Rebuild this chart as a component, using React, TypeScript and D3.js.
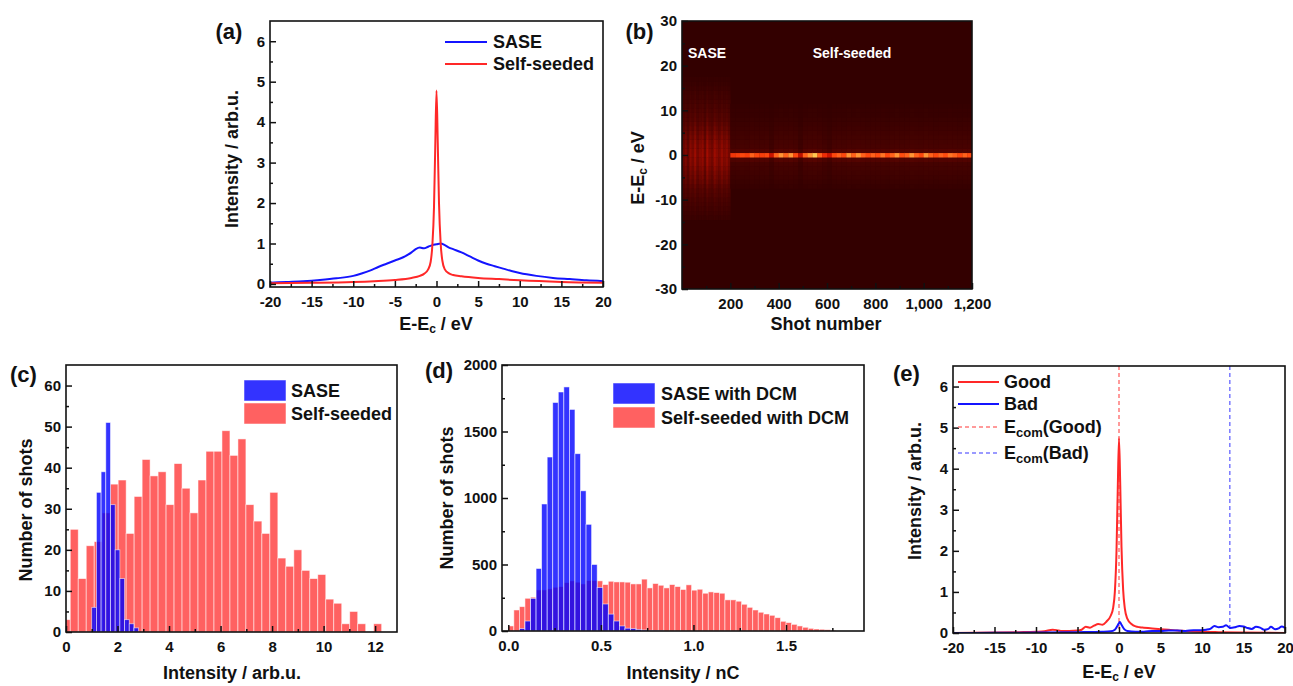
import React, { useEffect, useRef } from "react";
import * as d3 from "d3";

const FONT = "'Liberation Sans', Arial, Helvetica, sans-serif";

// (a) averaged spectra
const saseE = [-20, -18, -16, -14, -12, -10, -9, -8, -7, -6, -5, -4, -3, -2.5, -2, -1.5, -1, -0.5, 0, 0.5, 1, 1.5, 2, 3, 4, 5, 6, 7, 8, 9, 10, 12, 14, 16, 18, 20];
const saseSpec = [0.03, 0.05, 0.07, 0.1, 0.14, 0.2, 0.26, 0.33, 0.42, 0.5, 0.58, 0.66, 0.78, 0.86, 0.9, 0.88, 0.92, 0.96, 0.98, 1.0, 0.96, 0.9, 0.86, 0.78, 0.68, 0.58, 0.5, 0.44, 0.38, 0.32, 0.27, 0.2, 0.15, 0.12, 0.09, 0.07];
const seededE = [-20, -15, -10, -7.5, -5, -3, -2, -1.5, -1, -0.7, -0.5, -0.3, -0.15, 0, 0.15, 0.3, 0.5, 0.7, 1, 1.5, 2, 3, 5, 7.5, 10, 15, 20];
const seededSpec = [0.02, 0.03, 0.05, 0.07, 0.1, 0.15, 0.2, 0.25, 0.36, 0.55, 0.95, 1.9, 3.4, 4.78, 3.5, 2.0, 1.0, 0.58, 0.36, 0.26, 0.22, 0.19, 0.15, 0.12, 0.09, 0.05, 0.03];

// (b) single-shot map: column brightness per shot block, spectral profile per 1 eV row (-30..30)
const saseCols = [0.55, 0.7, 0.5, 0.8, 0.65, 0.9, 0.6, 0.75, 0.85, 0.55, 0.95, 0.7, 0.6, 0.9, 0.75, 0.65, 0.85, 0.7, 0.8, 0.6]; // 10 shots each, 0-200
const seedCols = [0.75, 0.8, 0.85, 0.8, 0.9, 0.85, 0.8, 0.85, 0.5, 0.9, 0.95, 0.9, 0.95, 0.85, 0.45, 0.9, 0.95, 1.0, 0.9, 0.7,
  0.5, 0.85, 0.9, 0.85, 0.95, 0.9, 0.95, 0.9, 0.85, 0.9, 0.88, 0.92, 0.85, 0.9, 0.95, 0.88, 0.9, 0.95, 0.9, 0.85,
  0.95, 0.9, 0.85, 0.9, 0.88, 0.92, 0.9, 0.85, 0.9, 0.88]; // 20 shots each, 200-1200
const energyRows = d3.range(-30, 31, 1);
const saseProfile = [0, 0, 0, 0, 0, 0, 0, 0, 0, 0, 0, 0, 0, 0, 0, 0,
  0.04, 0.06, 0.08, 0.1, 0.12, 0.15, 0.17, 0.2, 0.24, 0.27, 0.29, 0.32, 0.35, 0.36, 0.38,
  0.37, 0.35, 0.33, 0.3, 0.27, 0.24, 0.21, 0.18, 0.16, 0.14, 0.12, 0.1, 0.08, 0.07, 0.05, 0.03, 0.02,
  0, 0, 0, 0, 0, 0, 0, 0, 0, 0, 0, 0, 0];
const seedProfile = [0, 0, 0, 0, 0, 0, 0, 0, 0, 0, 0, 0, 0, 0, 0, 0, 0, 0, 0, 0, 0, 0, 0,
  0.02, 0.03, 0.05, 0.06, 0.07, 0.08, 0.14, 1.0, 0.14, 0.09, 0.08, 0.07, 0.06, 0.05, 0.04, 0.03, 0.02, 0.02, 0.01,
  0, 0, 0, 0, 0, 0, 0, 0, 0, 0, 0, 0, 0, 0, 0, 0, 0, 0, 0];

// (c) histogram, arb.u.
const cRedCenters = d3.range(40).map((k) => 0.01 + k * 0.31);
const cRedCounts = [3, 25, 13, 21, 22, 29, 36, 37, 24, 33, 42, 38, 39, 31, 41, 35, 29, 37, 44, 44, 49, 43, 47, 31, 27, 24, 34, 18, 16, 20, 15, 13, 14, 8, 7, 2, 5, 2, 0, 2];
const cBlueCenters = d3.range(10).map((k) => 1.09 + k * 0.182);
const cBlueCounts = [6, 34, 39, 51, 31, 20, 13, 3, 2, 1];

// (d) histogram with DCM, nC
const dRedCenters = d3.range(59).map((k) => 0.015 + k * 0.03);
const dRedCounts = [38, 158, 183, 246, 254, 309, 309, 317, 329, 334, 364, 377, 367, 354, 379, 379, 377, 349, 374, 369,
  369, 367, 354, 354, 390, 324, 357, 344, 324, 349, 334, 312, 347, 307, 314, 284, 294, 289, 284, 234,
  234, 224, 201, 178, 158, 141, 128, 118, 100, 73, 63, 50, 38, 28, 20, 15, 13, 10, 5];
const dBlueCenters = d3.range(28).map((k) => 0.015 + k * 0.03);
const dBlueCounts = [0, 0, 18, 75, 245, 470, 955, 1308, 1718, 1797, 1835, 1666, 1333, 1054, 802, 500, 327, 203, 127, 75, 38, 21, 18, 12, 8, 5, 3, 2];

// (e) good / bad single shots
const goodE = [-20, -15, -12, -10, -9, -8, -7.5, -7, -6, -5, -4.5, -4, -3.5, -3, -2.5, -2, -1.5, -1, -0.7, -0.5, -0.3, -0.15, 0, 0.15, 0.3, 0.5, 0.7, 1, 1.5, 2, 2.5, 3, 4, 5, 6, 7, 8, 10, 12, 15, 20];
const goodSpec = [0.0, 0.01, 0.02, 0.03, 0.04, 0.08, 0.07, 0.05, 0.05, 0.06, 0.08, 0.15, 0.13, 0.18, 0.22, 0.2, 0.28, 0.42, 0.62, 1.0, 2.0, 3.5, 4.74, 3.6, 2.1, 1.05, 0.6, 0.35, 0.22, 0.16, 0.14, 0.13, 0.11, 0.09, 0.08, 0.06, 0.05, 0.03, 0.02, 0.01, 0.0];
const badE = [-20, -15, -10, -5, -2, -1, -0.5, 0, 0.1, 0.3, 0.6, 1, 2, 3, 4, 5, 6, 7, 8, 9, 10, 10.5, 11, 11.5, 12, 12.5, 12.9, 13.4, 14, 14.5, 15, 15.5, 16, 16.5, 17, 17.5, 18, 18.3, 18.8, 19.3, 19.6, 20];
const badSpec = [0.0, 0.005, 0.01, 0.02, 0.03, 0.04, 0.08, 0.24, 0.27, 0.2, 0.1, 0.05, 0.03, 0.03, 0.05, 0.05, 0.06, 0.06, 0.05, 0.07, 0.07, 0.08, 0.1, 0.17, 0.14, 0.15, 0.19, 0.12, 0.14, 0.17, 0.16, 0.12, 0.1, 0.15, 0.13, 0.08, 0.1, 0.15, 0.09, 0.12, 0.16, 0.12];
const ecomGood = 0;
const ecomBad = 13.35;

const RED = "#ff2828";
const BLUE = "#1414ff";

const plain = (d: any) => String(d);

function axes(g: any, x: any, y: any, o: any) {
  const yb = y.range()[0];
  const yt = y.range()[1];
  const xl = x.range()[0];
  const xr = x.range()[1];
  const style = (s: any) => {
    s.select(".domain").remove();
    s.attr("font-size", 15).attr("font-family", FONT).attr("font-weight", "bold");
    s.selectAll("line").attr("stroke", "#111").attr("stroke-width", 1.5);
    s.selectAll("text").attr("fill", "#111");
  };
  g.append("g").attr("transform", `translate(0,${yb})`)
    .call(d3.axisBottom(x).tickValues(o.xMinor).tickSize(-3).tickSizeOuter(0).tickFormat(() => "")).call(style);
  g.append("g").attr("transform", `translate(0,${yb})`)
    .call(d3.axisBottom(x).tickValues(o.xMajor).tickSize(-6).tickSizeOuter(0).tickPadding(9).tickFormat(o.xFmt || plain)).call(style);
  g.append("g").attr("transform", `translate(${xl},0)`)
    .call(d3.axisLeft(y).tickValues(o.yMinor).tickSize(-3).tickSizeOuter(0).tickFormat(() => "")).call(style);
  g.append("g").attr("transform", `translate(${xl},0)`)
    .call(d3.axisLeft(y).tickValues(o.yMajor).tickSize(-6).tickSizeOuter(0).tickPadding(5).tickFormat(o.yFmt || plain)).call(style);
  g.append("rect").attr("x", xl).attr("y", yt).attr("width", xr - xl).attr("height", yb - yt)
    .attr("fill", "none").attr("stroke", "#111").attr("stroke-width", 1.6);
}

function label(svg: any, x: number, y: number, t: string, size = 22) {
  svg.append("text").attr("x", x).attr("y", y).attr("text-anchor", "middle").attr("dominant-baseline", "central")
    .attr("font-size", size).attr("font-weight", "bold").attr("fill", "#111").text(t);
}

// "E-E_c / eV" style title, optionally rotated
function eTitle(svg: any, cx: number, cy: number, rotate: boolean) {
  const t = svg.append("text").attr("text-anchor", "middle").attr("dominant-baseline", "central")
    .attr("font-size", 18).attr("font-weight", "bold").attr("fill", "#111")
    .attr("transform", `translate(${cx},${cy})${rotate ? " rotate(-90)" : ""}`);
  t.append("tspan").text("E-E");
  t.append("tspan").attr("dy", 5).attr("font-size", 12).text("c");
  t.append("tspan").attr("dy", -5).text(" / eV");
}

function title(svg: any, cx: number, cy: number, s: string, rotate: boolean) {
  svg.append("text").attr("text-anchor", "middle").attr("dominant-baseline", "central")
    .attr("font-size", 18).attr("font-weight", "bold").attr("fill", "#111")
    .attr("transform", `translate(${cx},${cy})${rotate ? " rotate(-90)" : ""}`).text(s);
}

function clip(svg: any, id: string, x: any, y: any) {
  svg.append("defs").append("clipPath").attr("id", id).append("rect")
    .attr("x", x.range()[0]).attr("y", y.range()[1])
    .attr("width", x.range()[1] - x.range()[0]).attr("height", y.range()[0] - y.range()[1]);
}

function curve(g: any, x: any, y: any, xs: number[], ys: number[], color: string, w = 2) {
  const line = d3.line<number>().x((_, i) => x(xs[i])).y((d) => y(d)).curve(d3.curveMonotoneX);
  g.append("path").datum(ys).attr("d", line).attr("fill", "none").attr("stroke", color).attr("stroke-width", w);
}

function bars(g: any, x: any, y: any, centers: number[], counts: number[], w: number, color: string, op: number) {
  g.selectAll(null).data(counts).enter().append("rect")
    .attr("x", (_: any, i: number) => x(centers[i] - w / 2))
    .attr("width", (_: any, i: number) => x(centers[i] + w / 2) - x(centers[i] - w / 2))
    .attr("y", (d: number) => y(d))
    .attr("height", (d: number) => y(0) - y(d))
    .attr("fill", color).attr("fill-opacity", op)
    .attr("stroke", "#fff").attr("stroke-opacity", 0.65).attr("stroke-width", 0.8);
}

function drawA(svg: any) {
  const x = d3.scaleLinear().domain([-20, 20]).range([270, 603]);
  const y = d3.scaleLinear().domain([-0.075, 6.5]).range([287, 21]);
  clip(svg, "clipA", x, y);
  const g = svg.append("g").attr("clip-path", "url(#clipA)");
  curve(g, x, y, saseE, saseSpec, BLUE);
  curve(g, x, y, seededE, seededSpec, RED);
  axes(svg, x, y, {
    xMajor: d3.range(-20, 21, 5), xMinor: d3.range(-17.5, 20, 5),
    yMajor: d3.range(0, 7, 1), yMinor: d3.range(0.5, 6.4, 1),
  });
  const leg = [["SASE", BLUE, 42], ["Self-seeded", RED, 64]];
  leg.forEach(([t, c, yy]: any) => {
    svg.append("line").attr("x1", 445).attr("x2", 487).attr("y1", yy).attr("y2", yy).attr("stroke", c).attr("stroke-width", 2);
    svg.append("text").attr("x", 493).attr("y", yy).attr("dominant-baseline", "central").attr("font-size", 18)
      .attr("font-weight", "bold").attr("fill", "#111").text(t);
  });
  eTitle(svg, 436, 324, false);
  title(svg, 232, 159, "Intensity / arb.u.", true);
  label(svg, 229, 31, "(a)");
}

function drawB(svg: any) {
  const x = d3.scaleLinear().domain([0, 1200]).range([682, 972]);
  const y = d3.scaleLinear().domain([-30, 30]).range([289, 21]);
  const color = d3.scaleLinear<string>().domain([0, 0.15, 0.35, 0.6, 0.88, 1])
    .range(["#330000", "#580400", "#a00c00", "#e41a00", "#ff4c10", "#ffc850"]).clamp(true);
  clip(svg, "clipB", x, y);
  const g = svg.append("g").attr("clip-path", "url(#clipB)");
  g.append("rect").attr("x", 682).attr("y", 21).attr("width", 290).attr("height", 268).attr("fill", "#330000");
  const cells: any[] = [];
  saseCols.forEach((c, i) => energyRows.forEach((e, r) => {
    const v = c * saseProfile[r];
    if (v > 0.005) cells.push({ s0: i * 10, s1: i * 10 + 10, e, v });
  }));
  seedCols.forEach((c, i) => energyRows.forEach((e, r) => {
    const v = c * seedProfile[r];
    if (v > 0.005) cells.push({ s0: 200 + i * 20, s1: 220 + i * 20, e, v });
  }));
  g.selectAll(null).data(cells).enter().append("rect")
    .attr("x", (d: any) => x(d.s0)).attr("width", (d: any) => x(d.s1) - x(d.s0) + 0.3)
    .attr("y", (d: any) => y(d.e + 0.5)).attr("height", (d: any) => y(d.e - 0.5) - y(d.e + 0.5) + 0.3)
    .attr("fill", (d: any) => color(d.v));
  axes(svg, x, y, {
    xMajor: d3.range(200, 1201, 200), xMinor: d3.range(100, 1200, 200),
    yMajor: d3.range(-30, 31, 10), yMinor: d3.range(-25, 30, 10),
    xFmt: (d: any) => d3.format(",")(d),
  });
  svg.append("text").attr("x", 707).attr("y", 53).attr("text-anchor", "middle").attr("dominant-baseline", "central")
    .attr("font-size", 14).attr("font-weight", "bold").attr("fill", "#fff").text("SASE");
  svg.append("text").attr("x", 852).attr("y", 53).attr("text-anchor", "middle").attr("dominant-baseline", "central")
    .attr("font-size", 14).attr("font-weight", "bold").attr("fill", "#fff").text("Self-seeded");
  title(svg, 826, 324, "Shot number", false);
  eTitle(svg, 638, 168, true);
  label(svg, 639.5, 31.5, "(b)");
}

function drawC(svg: any) {
  const x = d3.scaleLinear().domain([0, 12.85]).range([66, 397]);
  const y = d3.scaleLinear().domain([0, 65]).range([632, 365]);
  clip(svg, "clipC", x, y);
  const g = svg.append("g").attr("clip-path", "url(#clipC)");
  bars(g, x, y, cRedCenters, cRedCounts, 0.31, "#ff0000", 0.62);
  bars(g, x, y, cBlueCenters, cBlueCounts, 0.182, "#0000ff", 0.8);
  axes(svg, x, y, {
    xMajor: d3.range(0, 13, 2), xMinor: d3.range(1, 12, 2),
    yMajor: d3.range(0, 61, 10), yMinor: d3.range(5, 60, 10),
  });
  const leg = [["SASE", "#0000ff", 0.8, 380], ["Self-seeded", "#ff0000", 0.62, 403]];
  leg.forEach(([t, c, op, yy]: any) => {
    svg.append("rect").attr("x", 244).attr("y", yy).attr("width", 42).attr("height", 21)
      .attr("fill", c).attr("fill-opacity", op).attr("stroke", "#fff").attr("stroke-opacity", 0.65).attr("stroke-width", 0.8);
    svg.append("text").attr("x", 291).attr("y", yy + 11).attr("dominant-baseline", "central").attr("font-size", 18)
      .attr("font-weight", "bold").attr("fill", "#111").text(t);
  });
  title(svg, 232, 673, "Intensity / arb.u.", false);
  title(svg, 26, 510, "Number of shots", true);
  label(svg, 23.5, 374.5, "(c)");
}

function drawD(svg: any) {
  const x = d3.scaleLinear().domain([-0.034, 1.921]).range([502, 864]);
  const y = d3.scaleLinear().domain([0, 2000]).range([631, 365]);
  clip(svg, "clipD", x, y);
  const g = svg.append("g").attr("clip-path", "url(#clipD)");
  bars(g, x, y, dRedCenters, dRedCounts, 0.03, "#ff0000", 0.62);
  bars(g, x, y, dBlueCenters, dBlueCounts, 0.03, "#0000ff", 0.8);
  axes(svg, x, y, {
    xMajor: [0, 0.5, 1, 1.5], xMinor: [0.25, 0.75, 1.25, 1.75],
    yMajor: d3.range(0, 2001, 500), yMinor: d3.range(250, 2000, 500),
    xFmt: d3.format(".1f"),
  });
  const leg = [["SASE with DCM", "#0000ff", 0.8, 383], ["Self-seeded with DCM", "#ff0000", 0.62, 407]];
  leg.forEach(([t, c, op, yy]: any) => {
    svg.append("rect").attr("x", 613).attr("y", yy).attr("width", 42).attr("height", 21)
      .attr("fill", c).attr("fill-opacity", op).attr("stroke", "#fff").attr("stroke-opacity", 0.65).attr("stroke-width", 0.8);
    svg.append("text").attr("x", 661).attr("y", yy + 11).attr("dominant-baseline", "central").attr("font-size", 18)
      .attr("font-weight", "bold").attr("fill", "#111").text(t);
  });
  title(svg, 683, 673, "Intensity / nC", false);
  title(svg, 447, 498, "Number of shots", true);
  label(svg, 439, 370.5, "(d)");
}

function drawE(svg: any) {
  const x = d3.scaleLinear().domain([-20, 20]).range([953, 1285]);
  const y = d3.scaleLinear().domain([0, 6.5]).range([633, 366]);
  clip(svg, "clipE", x, y);
  const g = svg.append("g").attr("clip-path", "url(#clipE)");
  [[ecomGood, "#ff7a7a"], [ecomBad, "#7a7aff"]].forEach(([v, c]: any) => {
    g.append("line").attr("x1", x(v)).attr("x2", x(v)).attr("y1", y.range()[1]).attr("y2", y.range()[0])
      .attr("stroke", c).attr("stroke-width", 1.5).attr("stroke-dasharray", "4,3");
  });
  curve(g, x, y, goodE, goodSpec, RED);
  curve(g, x, y, badE, badSpec, BLUE);
  axes(svg, x, y, {
    xMajor: d3.range(-20, 21, 5), xMinor: d3.range(-17.5, 20, 5),
    yMajor: d3.range(0, 7, 1), yMinor: d3.range(0.5, 6.4, 1),
  });
  const leg = [["Good", "", RED, "", 382], ["Bad", "", BLUE, "", 404], ["E", "(Good)", "#ff7a7a", "4,3", 427], ["E", "(Bad)", "#7a7aff", "4,3", 453]];
  leg.forEach(([t, t2, c, dash, yy]: any) => {
    svg.append("line").attr("x1", 958).attr("x2", 999).attr("y1", yy).attr("y2", yy).attr("stroke", c)
      .attr("stroke-width", dash ? 1.5 : 2).attr("stroke-dasharray", dash || null);
    const tx = svg.append("text").attr("x", 1004).attr("y", yy).attr("dominant-baseline", "central").attr("font-size", 18)
      .attr("font-weight", "bold").attr("fill", "#111");
    tx.append("tspan").text(t);
    if (t2) {
      tx.append("tspan").attr("dy", 5).attr("font-size", 13).text("com");
      tx.append("tspan").attr("dy", -5).text(t2);
    }
  });
  eTitle(svg, 1119, 672, false);
  title(svg, 915, 491, "Intensity / arb.u.", true);
  label(svg, 906.5, 373.5, "(e)");
}

export default function App() {
  const ref = useRef<SVGSVGElement>(null);
  useEffect(() => {
    const svg = d3.select(ref.current);
    svg.selectAll("*").remove();
    drawA(svg);
    drawB(svg);
    drawC(svg);
    drawD(svg);
    drawE(svg);
  }, []);
  return (
    <svg
      ref={ref}
      width={1293}
      height={686}
      fontFamily={FONT}
      style={{ position: "absolute", left: 0, top: 0, background: "#fff" }}
    />
  );
}
